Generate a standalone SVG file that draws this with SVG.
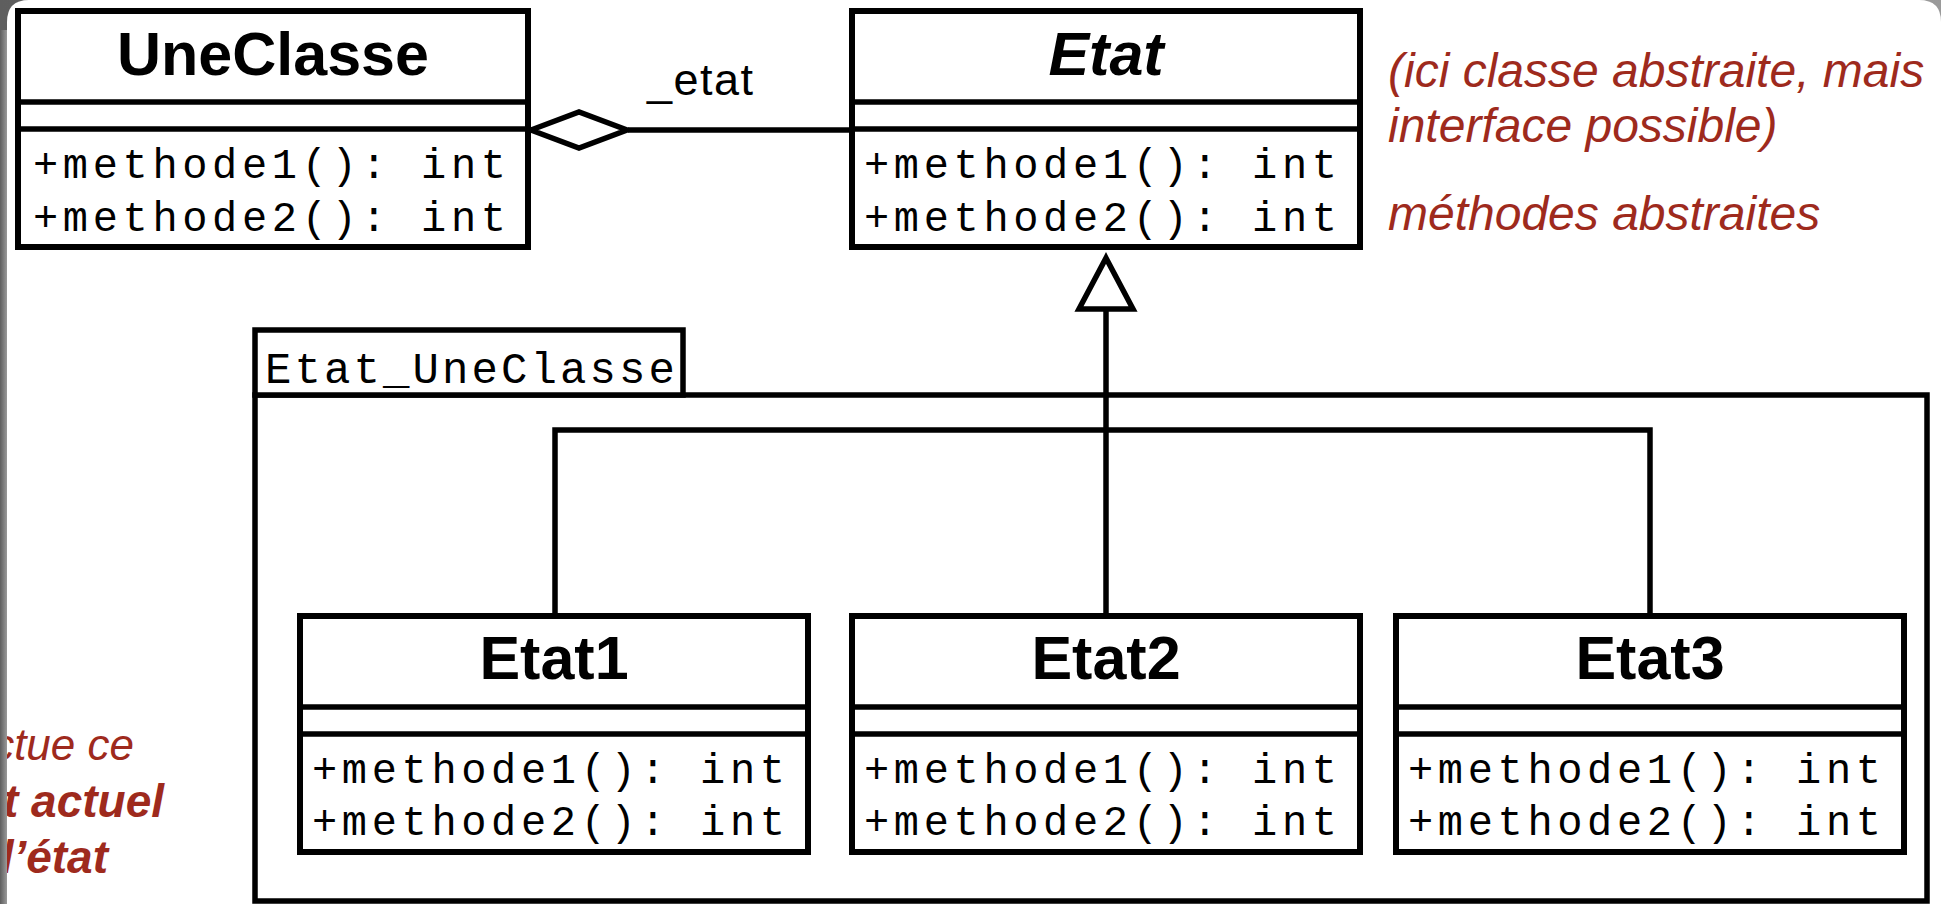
<svg xmlns="http://www.w3.org/2000/svg" width="1941" height="904" viewBox="0 0 1941 904">
<defs>
<linearGradient id="edge" x1="0" y1="0" x2="1" y2="0">
<stop offset="0" stop-color="#5e5e5e"/>
<stop offset="1" stop-color="#9a9a9a"/>
</linearGradient>
<style>
.box{fill:#fff;stroke:#000;stroke-width:6}
.sep{stroke:#000;stroke-width:5.5}
.title{font-family:"Liberation Sans",Arial,sans-serif;font-weight:bold;font-size:61px;text-anchor:middle;fill:#000}
.meth{font-family:"Liberation Mono","Courier New",monospace;font-size:42px;fill:#000}
.pkg{fill:#fff;stroke:#000;stroke-width:5.5}
.conn{fill:none;stroke:#000;stroke-width:5.5}
.head{fill:#fff;stroke:#000;stroke-width:5.5;stroke-linejoin:miter}
.note{font-family:"Liberation Sans",Arial,sans-serif;font-style:italic;font-size:48px;fill:#9e2a1d}
.lnote{font-family:"Liberation Sans",Arial,sans-serif;font-style:italic;font-size:46px;fill:#9e2a1d;text-anchor:end}
</style>
</defs>
<rect x="0" y="0" width="1941" height="904" fill="url(#edge)"/>
<path d="M7,22 Q7,0 29,0 L1919,0 Q1941,0 1941,22 L1941,904 L7,904 Z" fill="#fff"/>

<g id="Etat_UneClasse">
<rect class="pkg" x="255" y="395" width="1672" height="506"/>
<rect class="pkg" x="255" y="330" width="428" height="65"/>
<text class="meth" x="265" y="383" style="font-size:44px" textLength="410" lengthAdjust="spacing">Etat_UneClasse</text>
</g>

<g id="UneClasse" transform="translate(18,11)">
<rect class="box" x="0" y="0" width="510" height="236"/>
<line class="sep" x1="0" y1="91" x2="510" y2="91"/>
<line class="sep" x1="0" y1="118" x2="510" y2="118"/>
<text class="title" x="255" y="64">UneClasse</text>
<text class="meth" x="15" y="167" textLength="473" lengthAdjust="spacing">+methode1(): int</text>
<text class="meth" x="15" y="220" textLength="473" lengthAdjust="spacing">+methode2(): int</text>
</g>

<g id="Etat" transform="translate(852,11)">
<rect class="box" x="0" y="0" width="508" height="236"/>
<line class="sep" x1="0" y1="91" x2="508" y2="91"/>
<line class="sep" x1="0" y1="118" x2="508" y2="118"/>
<text class="title" x="254" y="64" font-style="italic">Etat</text>
<text class="meth" x="12" y="167" textLength="473" lengthAdjust="spacing">+methode1(): int</text>
<text class="meth" x="12" y="220" textLength="473" lengthAdjust="spacing">+methode2(): int</text>
</g>

<g id="Etat1" transform="translate(300,616)">
<rect class="box" x="0" y="0" width="508" height="236"/>
<line class="sep" x1="0" y1="91" x2="508" y2="91"/>
<line class="sep" x1="0" y1="118" x2="508" y2="118"/>
<text class="title" x="254" y="63">Etat1</text>
<text class="meth" x="12" y="167" textLength="473" lengthAdjust="spacing">+methode1(): int</text>
<text class="meth" x="12" y="219" textLength="473" lengthAdjust="spacing">+methode2(): int</text>
</g>

<g id="Etat2" transform="translate(852,616)">
<rect class="box" x="0" y="0" width="508" height="236"/>
<line class="sep" x1="0" y1="91" x2="508" y2="91"/>
<line class="sep" x1="0" y1="118" x2="508" y2="118"/>
<text class="title" x="254" y="63">Etat2</text>
<text class="meth" x="12" y="167" textLength="473" lengthAdjust="spacing">+methode1(): int</text>
<text class="meth" x="12" y="219" textLength="473" lengthAdjust="spacing">+methode2(): int</text>
</g>

<g id="Etat3" transform="translate(1396,616)">
<rect class="box" x="0" y="0" width="508" height="236"/>
<line class="sep" x1="0" y1="91" x2="508" y2="91"/>
<line class="sep" x1="0" y1="118" x2="508" y2="118"/>
<text class="title" x="254" y="63">Etat3</text>
<text class="meth" x="12" y="167" textLength="473" lengthAdjust="spacing">+methode1(): int</text>
<text class="meth" x="12" y="219" textLength="473" lengthAdjust="spacing">+methode2(): int</text>
</g>

<g id="connectors">
<line class="conn" x1="628" y1="130" x2="852" y2="130"/>
<polygon class="head" points="531,130 579,112 627,130 579,148"/>
<text x="647" y="95" font-family="Liberation Sans, Arial, sans-serif" font-size="45" fill="#000" textLength="106" lengthAdjust="spacing">_etat</text>
<line class="conn" x1="1106" y1="309" x2="1106" y2="616"/>
<polygon class="head" points="1106,258 1133,309 1079,309"/>
<polyline class="conn" points="555,616 555,430 1650,430 1650,616"/>
</g>

<g id="notes">
<text class="note" x="1388" y="87">(ici classe abstraite, mais</text>
<text class="note" x="1388" y="142">interface possible)</text>
<text class="note" x="1388" y="230">méthodes abstraites</text>
</g>

<g id="left-note">
<text class="lnote" x="134" y="760" style="font-size:44px">ctue ce</text>
<text class="lnote" x="164" y="817" font-weight="bold">t actuel</text>
<text class="lnote" x="108" y="873" font-weight="bold">l’état</text>
</g>
<rect x="0" y="30" width="7" height="874" fill="url(#edge)"/>
</svg>
